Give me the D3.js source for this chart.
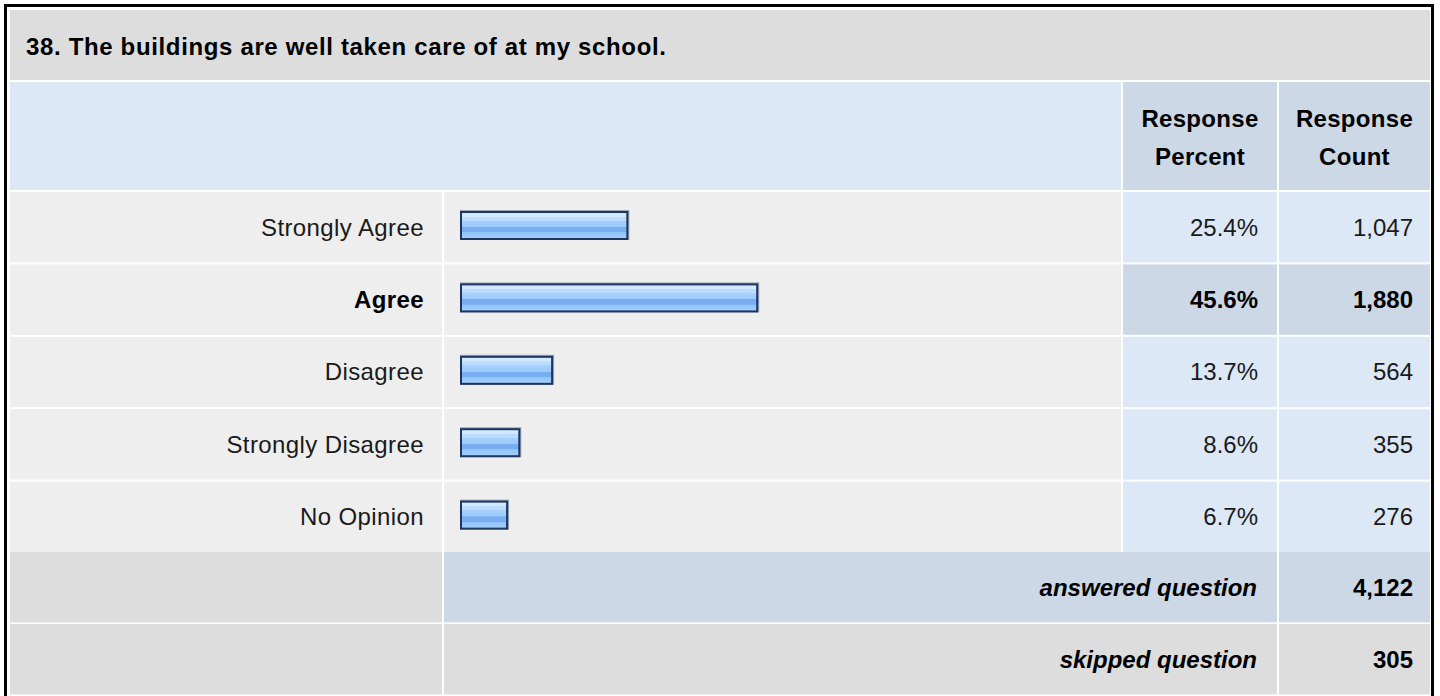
<!DOCTYPE html>
<html>
<head>
<meta charset="utf-8">
<script src="https://cdn.jsdelivr.net/npm/d3@7"></script>
<style>
  html, body { margin: 0; padding: 0; background: #ffffff; }
  svg { display: block; }
  text { font-family: "Liberation Sans", Arial, sans-serif; }
</style>
</head>
<body>
<svg id="chart" width="1440" height="696"></svg>
<script>
// ---- data ----
const title = "38. The buildings are well taken care of at my school.";
const categories = ["Strongly Agree", "Agree", "Disagree", "Strongly Disagree", "No Opinion"];
const percents = [25.4, 45.6, 13.7, 8.6, 6.7];
const counts = [1047, 1880, 564, 355, 276];
const headerLabels = [["Response", "Percent"], ["Response", "Count"]];
const summaryLabels = ["answered question", "skipped question"];
const summaryValues = [4122, 305];

// ---- layout ----
const svg = d3.select("#chart");
const L = 10, R = 1430;
const colLabelEnd = 442, colBarStart = 444, colBarEnd = 1121;
const colPctStart = 1123, colPctEnd = 1277, colCntStart = 1279;
const titleTop = 10, titleBot = 80, headTop = 82, headBot = 190;
const rowTop0 = 192, rowPitch = 72, rowH = 70;

const C = {
  title: "#dddddd", head: "#dce8f6", headDark: "#ccd8e6",
  row: "#eeeeee", cell: "#dce8f6", cellDark: "#ccd8e6", gray: "#dddddd"
};

const fmtCount = d3.format(",");
const fmtPct = d => d3.format(".1f")(d) + "%";
const maxIdx = d3.maxIndex(percents);

// bar scale
const x = d3.scaleLinear().domain([0, 100]).range([0, 643]);
const y = d3.scaleBand().domain(categories)
  .range([rowTop0, rowTop0 + rowPitch * categories.length]).paddingInner(2 / rowPitch).paddingOuter(0);

// gradient for bar fill
const defs = svg.append("defs");
const grad = defs.append("linearGradient").attr("id", "barGrad")
  .attr("x1", 0).attr("y1", 0).attr("x2", 0).attr("y2", 1);
[[0, "#d2e9ff"], [0.14, "#d2e9ff"], [0.15, "#bcdcff"], [0.3, "#bcdcff"], [0.31, "#a8d1fd"],
 [0.55, "#9ccafa"], [0.56, "#78aef0"], [0.76, "#78aef0"], [0.77, "#91c3f9"], [1, "#a2cefc"]]
  .forEach(([o, c]) => grad.append("stop").attr("offset", o).attr("stop-color", c));

// frame
svg.append("rect").attr("x", 5.5).attr("y", 5.5).attr("width", 1427).attr("height", 720)
  .attr("fill", "#ffffff").attr("stroke", "#000000").attr("stroke-width", 3);

// title row
svg.append("rect").attr("x", L).attr("y", titleTop).attr("width", R - L).attr("height", titleBot - titleTop).attr("fill", C.title);
svg.append("text").attr("x", 26).attr("y", 55).attr("font-size", 24).attr("font-weight", "bold")
  .attr("letter-spacing", 0.65).attr("fill", "#000").text(title);

// header row
svg.append("rect").attr("x", L).attr("y", headTop).attr("width", colBarEnd - L).attr("height", headBot - headTop).attr("fill", C.head);
const headCols = [[colPctStart, colPctEnd], [colCntStart, R]];
headCols.forEach(([a, b], i) => {
  svg.append("rect").attr("x", a).attr("y", headTop).attr("width", b - a).attr("height", headBot - headTop).attr("fill", C.headDark);
  const t = svg.append("text").attr("x", (a + b) / 2).attr("text-anchor", "middle")
    .attr("font-size", 24).attr("font-weight", "bold").attr("letter-spacing", 0.3).attr("fill", "#000");
  t.append("tspan").attr("x", (a + b) / 2).attr("y", 127).text(headerLabels[i][0]);
  t.append("tspan").attr("x", (a + b) / 2).attr("y", 165).text(headerLabels[i][1]);
});

// data rows
const rows = svg.append("g").selectAll("g").data(categories).join("g")
  .attr("transform", d => `translate(0,${y(d)})`);
const h = y.bandwidth();

rows.append("rect").attr("x", L).attr("width", colLabelEnd - L).attr("height", h).attr("fill", C.row);
rows.append("rect").attr("x", colBarStart).attr("width", colBarEnd - colBarStart).attr("height", h).attr("fill", C.row);
rows.append("rect").attr("x", colPctStart).attr("width", colPctEnd - colPctStart).attr("height", h)
  .attr("fill", (d, i) => i === maxIdx ? C.cellDark : C.cell);
rows.append("rect").attr("x", colCntStart).attr("width", R - colCntStart).attr("height", h)
  .attr("fill", (d, i) => i === maxIdx ? C.cellDark : C.cell);

const base = h / 2 + 8.5;
rows.append("text").attr("x", colLabelEnd - 18).attr("y", base).attr("text-anchor", "end")
  .attr("font-size", 24).attr("letter-spacing", 0.4).attr("font-weight", (d, i) => i === maxIdx ? "bold" : "normal")
  .attr("fill", (d, i) => i === maxIdx ? "#000" : "#1a1a1a").text(d => d);
rows.append("text").attr("x", colPctEnd - 19).attr("y", base).attr("text-anchor", "end")
  .attr("font-size", 24).attr("font-weight", (d, i) => i === maxIdx ? "bold" : "normal")
  .attr("fill", (d, i) => i === maxIdx ? "#000" : "#1a1a1a").text((d, i) => fmtPct(percents[i]));
rows.append("text").attr("x", R - 17).attr("y", base).attr("text-anchor", "end")
  .attr("font-size", 24).attr("font-weight", (d, i) => i === maxIdx ? "bold" : "normal")
  .attr("fill", (d, i) => i === maxIdx ? "#000" : "#1a1a1a").text((d, i) => fmtCount(counts[i]));

// bars
const bx = 460, by = 18, bh = 30;
const bars = rows.append("g");
bars.append("rect").attr("x", bx).attr("y", by).attr("height", bh)
  .attr("width", (d, i) => x(percents[i]) + 6).attr("fill", "#9aa6b6");
bars.append("rect").attr("x", bx).attr("y", by + 1).attr("height", bh - 1)
  .attr("width", (d, i) => x(percents[i]) + 5).attr("fill", "#1c3660");
bars.append("rect").attr("x", bx + 2).attr("y", by + 3).attr("height", bh - 5)
  .attr("width", (d, i) => x(percents[i]) + 1).attr("fill", "url(#barGrad)");

// summary rows
const sumTop = rowTop0 + rowPitch * categories.length;
summaryLabels.forEach((lab, i) => {
  const top = sumTop + i * rowPitch;
  const mid = i === 0 ? C.cellDark : C.gray;
  svg.append("rect").attr("x", L).attr("y", top).attr("width", colLabelEnd - L).attr("height", h).attr("fill", C.gray);
  svg.append("rect").attr("x", colBarStart).attr("y", top).attr("width", colPctEnd - colBarStart).attr("height", h).attr("fill", mid);
  svg.append("rect").attr("x", colCntStart).attr("y", top).attr("width", R - colCntStart).attr("height", h).attr("fill", mid);
  svg.append("text").attr("x", colPctEnd - 20).attr("y", top + base).attr("text-anchor", "end")
    .attr("font-size", 24).attr("font-weight", "bold").attr("font-style", "italic").attr("fill", "#000").text(lab);
  svg.append("text").attr("x", R - 17).attr("y", top + base).attr("text-anchor", "end")
    .attr("font-size", 24).attr("font-weight", "bold").attr("fill", "#000").text(fmtCount(summaryValues[i]));
});
</script>
</body>
</html>
